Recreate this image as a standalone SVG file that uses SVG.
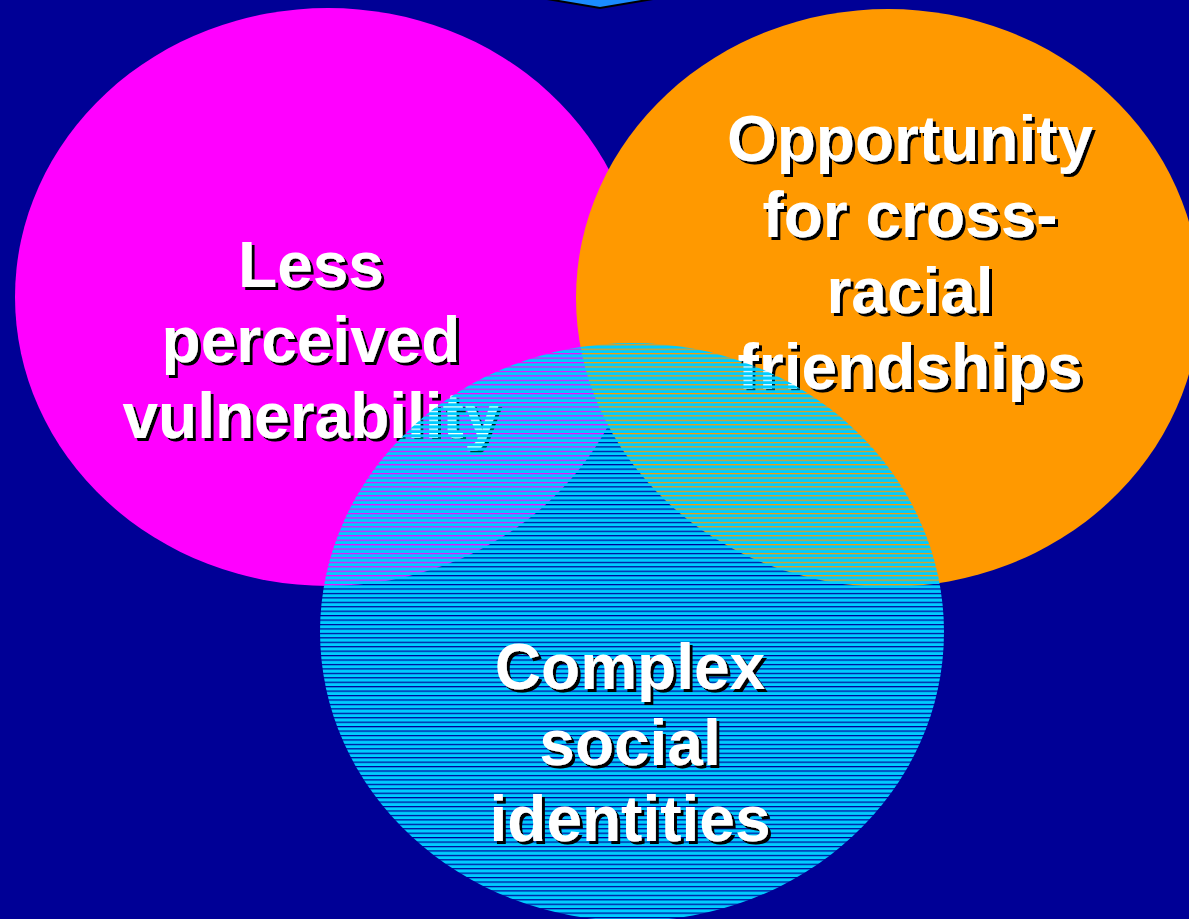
<svg xmlns="http://www.w3.org/2000/svg" width="1189" height="919" viewBox="0 0 1189 919">
<defs>
<pattern id="stripes" patternUnits="userSpaceOnUse" x="0" y="2.34" width="20" height="4.44">
<rect x="0" y="1.2" width="20" height="3.24" fill="#00ccff"/>
</pattern>
<filter id="shadow" x="-10%" y="-30%" width="120%" height="160%">
<feOffset in="SourceAlpha" dx="3" dy="3" result="off"/>
<feFlood flood-color="#000000"/>
<feComposite in2="off" operator="in" result="sh"/>
<feMerge><feMergeNode in="sh"/><feMergeNode in="SourceGraphic"/></feMerge>
</filter>
</defs>
<style>
.lbl{font-family:"Liberation Sans",Arial,sans-serif;font-weight:bold;font-size:64px;text-anchor:middle;fill:#ffffff}
</style>
<rect x="0" y="0" width="1189" height="919" fill="#000096"/>
<g id="arrow">
<polygon points="494,-10 600,8 706,-10" fill="#1a8cff" stroke="#000000" stroke-width="2"/>
</g>
<g id="vulnerability">
<ellipse cx="328" cy="297" rx="313" ry="289" fill="#ff00ff"/>
<text class="lbl" filter="url(#shadow)"><tspan x="311" y="287">Less</tspan><tspan x="311" y="362">perceived</tspan><tspan x="311" y="438">vulnerability</tspan></text>
</g>
<g id="friendships">
<ellipse cx="888" cy="298" rx="312" ry="289" fill="#ff9900"/>
<text class="lbl" filter="url(#shadow)"><tspan x="910" y="161">Opportunity</tspan><tspan x="910" y="237">for cross-</tspan><tspan x="910" y="313">racial</tspan><tspan x="910" y="389">friendships</tspan></text>
</g>
<g id="identities">
<ellipse cx="632" cy="632" rx="312" ry="289" fill="url(#stripes)"/>
<text class="lbl" filter="url(#shadow)"><tspan x="630" y="689">Complex</tspan><tspan x="630" y="765">social</tspan><tspan x="630" y="841">identities</tspan></text>
</g>
<g id="connectors"></g>
</svg>
